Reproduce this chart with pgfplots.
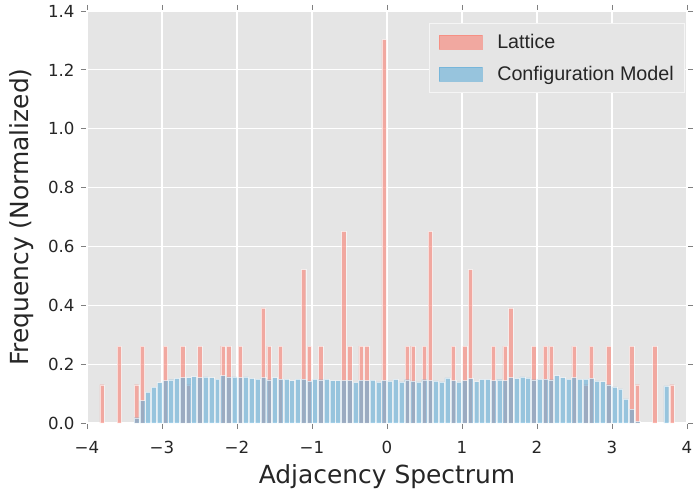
\documentclass[border=0pt]{standalone}
\usepackage{pgfplots}
\pgfplotsset{compat=1.18}
\usepackage{pgfplotstable}
\usepackage{fontspec}
\setmainfont{DejaVu Sans}
\newfontfamily\legfont{Liberation Sans}

\definecolor{bggray}{RGB}{229,229,229}
\definecolor{latc}{RGB}{250,128,114}
\definecolor{cmc}{RGB}{99,174,216}

% Lattice histogram (bin centre, normalized frequency)
\pgfplotstableread{
x y
-3.800 0.130
-3.569 0.261
-3.339 0.130
-3.262 0.261
-2.955 0.261
-2.725 0.261
-2.648 0.130
-2.495 0.261
-2.188 0.261
-2.111 0.261
-1.957 0.261
-1.650 0.391
-1.574 0.261
-1.420 0.261
-1.113 0.521
-1.036 0.261
-0.883 0.261
-0.576 0.651
-0.499 0.261
-0.345 0.261
-0.269 0.261
-0.038 1.303
0.269 0.261
0.345 0.261
0.499 0.261
0.576 0.651
0.883 0.261
1.036 0.261
1.113 0.521
1.420 0.261
1.574 0.261
1.650 0.391
1.957 0.261
2.111 0.261
2.188 0.261
2.495 0.261
2.648 0.130
2.725 0.261
2.955 0.261
3.262 0.261
3.339 0.130
3.569 0.261
3.800 0.130
}\lattice

% Configuration model histogram
\pgfplotstableread{
x y
-3.339 0.018
-3.262 0.076
-3.186 0.105
-3.109 0.122
-3.032 0.137
-2.955 0.144
-2.879 0.147
-2.802 0.152
-2.725 0.154
-2.648 0.154
-2.571 0.158
-2.495 0.154
-2.418 0.157
-2.341 0.154
-2.264 0.149
-2.188 0.161
-2.111 0.157
-2.034 0.157
-1.957 0.154
-1.881 0.157
-1.804 0.152
-1.727 0.149
-1.650 0.154
-1.574 0.147
-1.497 0.154
-1.420 0.149
-1.343 0.149
-1.267 0.144
-1.190 0.149
-1.113 0.149
-1.036 0.143
-0.960 0.149
-0.883 0.147
-0.806 0.149
-0.729 0.144
-0.652 0.144
-0.576 0.145
-0.499 0.145
-0.422 0.138
-0.345 0.146
-0.269 0.144
-0.192 0.146
-0.115 0.140
-0.038 0.145
0.038 0.143
0.115 0.148
0.192 0.140
0.269 0.147
0.345 0.143
0.422 0.140
0.499 0.147
0.576 0.145
0.652 0.143
0.729 0.140
0.806 0.153
0.883 0.144
0.960 0.140
1.036 0.144
1.113 0.151
1.190 0.141
1.267 0.148
1.343 0.148
1.420 0.144
1.497 0.147
1.574 0.144
1.650 0.154
1.727 0.152
1.804 0.157
1.881 0.153
1.957 0.147
2.034 0.149
2.111 0.149
2.188 0.147
2.264 0.161
2.341 0.154
2.418 0.149
2.495 0.154
2.571 0.149
2.648 0.149
2.725 0.152
2.802 0.143
2.879 0.141
2.955 0.130
3.032 0.123
3.109 0.116
3.186 0.082
3.262 0.047
3.339 0.005
3.723 0.126
}\confmodel

\begin{document}
\begin{tikzpicture}
\begin{axis}[
  name=ax,
  scale only axis,
  width=600bp, height=412bp,
  xmin=-4, xmax=4, ymin=0, ymax=1.4,
  xtick={-4,-3,-2,-1,0,1,2,3,4},
  xticklabels={−4,−3,−2,−1,0,1,2,3,4},
  ytick={0,0.2,0.4,0.6,0.8,1.0,1.2,1.4},
  yticklabels={0.0,0.2,0.4,0.6,0.8,1.0,1.2,1.4},
  axis background/.style={fill=bggray},
  grid=major,
  major grid style={white, line width=1.2bp},
  axis line style={white, line width=1.2bp},
  tick align=outside,
  major tick length=6bp,
  tick style={gray, line width=0.8bp},
  ticklabel style={font=\fontsize{16.7}{20}\selectfont, text=black!85},
  xticklabel style={yshift=-9bp},
  yticklabel style={xshift=-3bp},
  xlabel={Adjacency Spectrum},
  ylabel={Frequency (Normalized)},
  every axis x label/.style={at={(axis description cs:0.5,-0.131)}, anchor=center,
    font=\fontsize{25}{30}\selectfont, text=black!85},
  every axis y label/.style={at={(axis description cs:-0.1083,0.5)}, anchor=center, rotate=90,
    font=\fontsize{25}{30}\selectfont, text=black!85},
  legend style={at={(0.997,0.971)}, anchor=north east, fill=bggray,
    draw=white!60!bggray, line width=0.8bp, text=black!85,
    font=\legfont\fontsize{19.8}{23}\selectfont,
    inner xsep=9bp, inner ysep=9bp, row sep=12bp, cells={anchor=west},
    /tikz/every odd column/.append style={column sep=13bp}},
]
\addplot[ybar, bar width=0.058, fill=latc, draw=white, line width=0.4bp, opacity=0.6,
  legend image code/.code={\fill[latc, opacity=0.6] (-2bp,-7bp) rectangle (41bp,7bp);}]
  table[x=x, y=y] {\lattice};
\addlegendentry{Lattice}
\addplot[ybar, bar width=0.066, fill=cmc, draw=white, line width=0.4bp, opacity=0.6,
  legend image code/.code={\fill[cmc, opacity=0.6] (-2bp,-7bp) rectangle (41bp,7bp);}]
  table[x=x, y=y] {\confmodel};
\addlegendentry{Configuration Model}
\end{axis}
\pgfresetboundingbox
\path[use as bounding box] ([xshift=-87bp,yshift=-68bp]ax.south west) rectangle ([xshift=7bp,yshift=11bp]ax.north east);
\end{tikzpicture}
\end{document}
